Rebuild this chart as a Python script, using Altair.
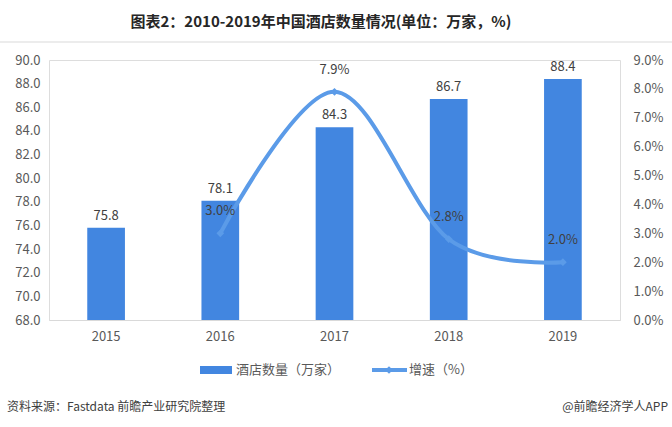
import altair as alt
import pandas as pd

years = ["2015", "2016", "2017", "2018", "2019"]
hotels = [75.8, 78.1, 84.3, 86.7, 88.4]
growth_years = ["2016", "2017", "2018", "2019"]
growth = [0.030, 0.079, 0.028, 0.020]

title_text = "图表2：2010-2019年中国酒店数量情况(单位：万家，%)"
source_text = "资料来源：Fastdata 前瞻产业研究院整理"
brand_text = "@前瞻经济学人APP"
legend_bar = "酒店数量（万家）"
legend_line = "增速（%）"

FONT = "Noto Sans CJK SC"
BAR_C = "#4286E0"
LINE_C = "#5B9BE8"

bar_df = pd.DataFrame({"year": years, "value": hotels})
line_df = pd.DataFrame({"year": growth_years, "rate": growth})
one = pd.DataFrame({"a": [0]})

xscale = alt.Scale(domain=years, paddingInner=0.67, paddingOuter=0.335)
xaxis = alt.Axis(title=None, labelAngle=0, ticks=False, labelPadding=10,
                 labelFontSize=13, labelColor="#595959", labelFont=FONT,
                 domainColor="#d9d9d9", domainWidth=1)
xenc = alt.X("year:O", sort=years, scale=xscale, axis=xaxis)
xpt = alt.X("year:O", sort=years, bandPosition=0.5, scale=xscale, axis=xaxis)

yl = alt.Scale(domain=[68, 90], zero=False, nice=False)
yr = alt.Scale(domain=[0, 0.09], nice=False)
ylaxis = alt.Axis(title=None, values=list(range(68, 91, 2)), format=".1f",
                  grid=False, ticks=False, domain=False, labelPadding=9,
                  labelFontSize=13, labelColor="#595959", labelFont=FONT)
yraxis = alt.Axis(title=None, orient="right", values=[i / 100 for i in range(10)],
                  format=".1%", grid=False, ticks=False, domain=False, labelPadding=13,
                  labelFontSize=13, labelColor="#595959", labelFont=FONT)

bars = alt.Chart(bar_df).mark_bar(color=BAR_C).encode(
    x=xenc,
    y=alt.Y("value:Q", scale=yl, axis=ylaxis),
    y2=alt.datum(68),
)
bar_text = alt.Chart(bar_df).mark_text(dy=-12, fontSize=13, color="#404040", font=FONT).encode(
    x=xpt, y=alt.Y("value:Q", scale=yl, axis=ylaxis), text=alt.Text("value:Q", format=".1f"))
left = alt.layer(bars, bar_text)

line = alt.Chart(line_df).mark_line(interpolate="cardinal", strokeWidth=4, color=LINE_C).encode(
    x=xpt, y=alt.Y("rate:Q", scale=yr, axis=yraxis))
pts = alt.Chart(line_df).mark_point(shape="diamond", filled=True, size=60, opacity=1, color=LINE_C).encode(
    x=xpt, y=alt.Y("rate:Q", scale=yr, axis=yraxis))
line_text = alt.Chart(line_df).mark_text(dy=-22, fontSize=13, color="#404040", font=FONT).encode(
    x=xpt, y=alt.Y("rate:Q", scale=yr, axis=yraxis), text=alt.Text("rate:Q", format=".1%"))
right = alt.layer(line, pts, line_text)

def txt(s, x, y, size=13, color="#595959", align="left", weight="normal"):
    return alt.Chart(one).mark_text(text=s, fontSize=size, color=color, align=align,
                                    baseline="middle", font=FONT, fontWeight=weight).encode(
        x=alt.value(x), y=alt.value(y))

title = txt(title_text, 272, -38, size=15, color="#262626", align="center", weight="bold")
sep = alt.Chart(one).mark_rule(color="#d9d9d9", strokeWidth=1).encode(
    x=alt.value(-49), x2=alt.value(623), y=alt.value(-18))
leg_rect = alt.Chart(one).mark_rect(color=BAR_C).encode(
    x=alt.value(151), x2=alt.value(183), y=alt.value(306), y2=alt.value(314))
leg_t1 = txt(legend_bar, 187, 310)
leg_line = alt.Chart(one).mark_rule(color=LINE_C, strokeWidth=4).encode(
    x=alt.value(323), x2=alt.value(358), y=alt.value(310))
leg_pt = alt.Chart(one).mark_point(shape="diamond", filled=True, size=60, opacity=1, color=LINE_C).encode(
    x=alt.value(340), y=alt.value(310))
leg_t2 = txt(legend_line, 360, 310)
src = txt(source_text, -42, 347, size=12, color="#404040")
brand = txt(brand_text, 619, 347, size=12, color="#404040", align="right")

chart = alt.layer(left, right, title, sep, leg_rect, leg_t1, leg_line, leg_pt, leg_t2, src, brand
                  ).resolve_scale(y="independent").properties(
    width=571, height=260,
    autosize=alt.AutoSizeParams(type="none"),
    padding={"left": 49, "top": 60, "right": 52, "bottom": 107},
).configure_view(strokeWidth=0, stroke="transparent").configure(background="white")

chart.save("out.html", embed_options={"renderer": "svg", "actions": False})
